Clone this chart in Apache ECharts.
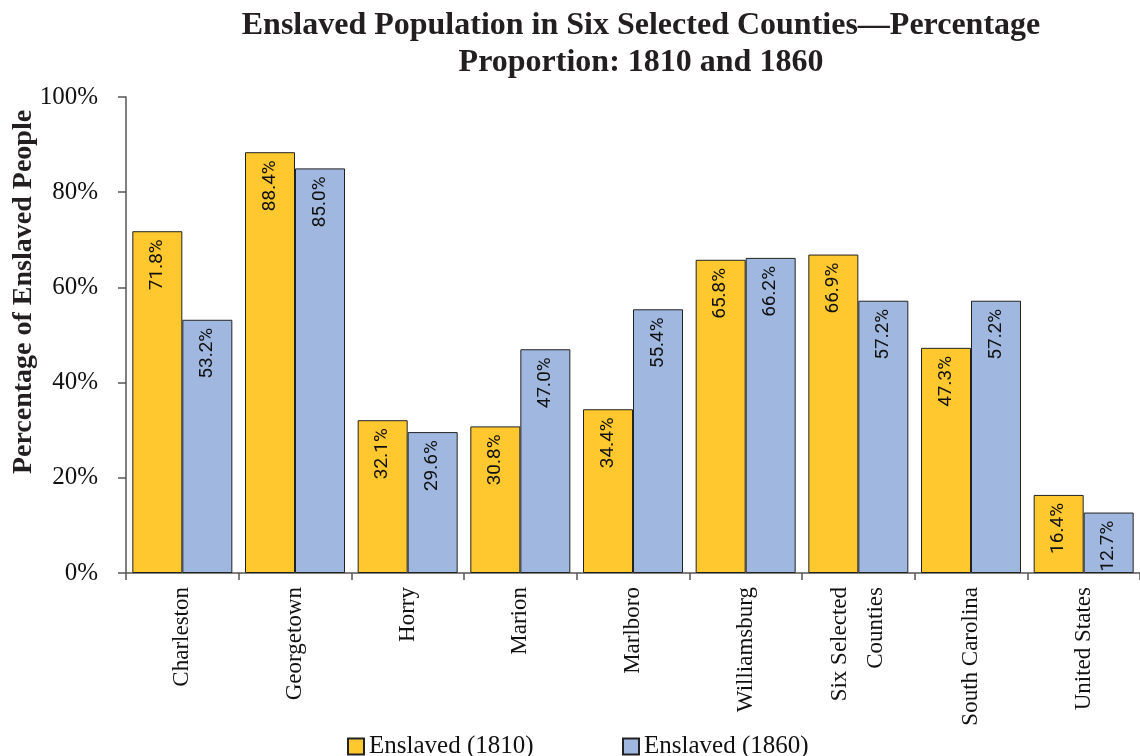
<!DOCTYPE html>
<html>
<head>
<meta charset="utf-8">
<title>Enslaved Population in Six Selected Counties</title>
<script src="https://cdn.jsdelivr.net/npm/echarts@6/dist/echarts.min.js"></script>
<style>
  html, body { margin: 0; padding: 0; background: #ffffff; }
  #chart { width: 1140px; height: 756px; }
</style>
</head>
<body>
<div id="chart"></div>
<script>
// Places compared
const categories = [
  'Charleston', 'Georgetown', 'Horry', 'Marion', 'Marlboro',
  'Williamsburg', 'Six Selected\nCounties', 'South Carolina', 'United States'
];
// Share of the population enslaved, percent
const enslaved1810 = [71.8, 88.4, 32.1, 30.8, 34.4, 65.8, 66.9, 47.3, 16.4];
const enslaved1860 = [53.2, 85.0, 29.6, 47.0, 55.4, 66.2, 57.2, 57.2, 12.7];
const seriesNames = ['Enslaved (1810)', 'Enslaved (1860)'];
const yTicks = { min: 0, max: 100, step: 20 };

const SERIF = '"Liberation Serif", "Times New Roman", serif';
const NARROW = 'Roboto, "Liberation Sans", sans-serif';
const AXIS_COLOR = '#555555';

const chart = echarts.init(document.getElementById('chart'), null, { renderer: 'canvas' });

function valueLabel() {
  return {
    show: true,
    position: 'insideTop',
    distance: 8,
    rotate: 90,
    align: 'right',
    verticalAlign: 'middle',
    fontFamily: NARROW,
    fontSize: 19,
    color: '#111111',
    formatter: p => p.value.toFixed(1) + '%'
  };
}

function legendBlock(name, left) {
  return {
    data: [name],
    left: left,
    top: 734,
    orient: 'horizontal',
    icon: 'rect',
    itemWidth: 16,
    itemHeight: 16,
    itemGap: 10,
    padding: 0,
    textStyle: { fontFamily: SERIF, fontSize: 25, color: '#111111' }
  };
}

chart.setOption({
  animation: false,
  backgroundColor: '#ffffff',
  title: {
    text: 'Enslaved Population in Six Selected Counties—Percentage\nProportion: 1810 and 1860',
    left: 641,
    top: 7,
    padding: 0,
    textAlign: 'center',
    textStyle: {
      fontFamily: SERIF,
      fontWeight: 'bold',
      fontSize: 32,
      lineHeight: 37,
      color: '#231F20'
    }
  },
  legend: [
    legendBlock(seriesNames[0], 347),
    legendBlock(seriesNames[1], 622)
  ],
  grid: { left: 126, top: 97, width: 1020, height: 476, containLabel: false },
  xAxis: {
    type: 'category',
    data: categories,
    boundaryGap: true,
    axisLine: { show: true, lineStyle: { color: AXIS_COLOR, width: 1.5 } },
    axisTick: { show: true, alignWithLabel: false, length: 7, lineStyle: { color: AXIS_COLOR, width: 1.5 } },
    axisLabel: {
      interval: 0,
      rotate: 90,
      margin: 14,
      fontFamily: SERIF,
      fontSize: 23,
      lineHeight: 36,
      color: '#111111'
    },
    splitLine: { show: false }
  },
  yAxis: {
    type: 'value',
    min: yTicks.min,
    max: yTicks.max,
    interval: yTicks.step,
    axisLine: { show: true, lineStyle: { color: AXIS_COLOR, width: 1.5 } },
    axisTick: { show: true, length: 8, lineStyle: { color: AXIS_COLOR, width: 1.5 } },
    axisLabel: {
      margin: 28,
      fontFamily: SERIF,
      fontSize: 25,
      color: '#111111',
      formatter: '{value}%'
    },
    splitLine: { show: false }
  },
  graphic: [{
    type: 'text',
    x: 24,
    y: 292,
    rotation: Math.PI / 2,
    style: {
      text: 'Percentage of Enslaved People',
      fontFamily: SERIF,
      fontWeight: 'bold',
      fontSize: 28,
      fill: '#231F20',
      align: 'center',
      verticalAlign: 'middle'
    }
  }],
  series: [
    {
      name: seriesNames[0],
      type: 'bar',
      data: enslaved1810,
      barWidth: 50,
      barGap: '0%',
      itemStyle: { color: '#FFC82E', borderColor: '#222222', borderWidth: 1 },
      label: valueLabel()
    },
    {
      name: seriesNames[1],
      type: 'bar',
      data: enslaved1860,
      barWidth: 50,
      barGap: '0%',
      itemStyle: { color: '#A0B8E0', borderColor: '#222222', borderWidth: 1 },
      label: valueLabel()
    }
  ]
});
</script>
</body>
</html>
